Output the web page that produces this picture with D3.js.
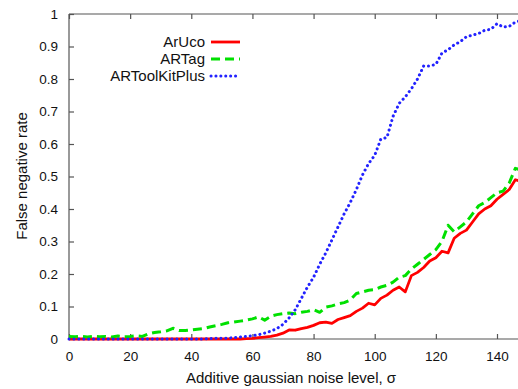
<!DOCTYPE html>
<html>
<head>
<meta charset="utf-8">
<script src="https://cdn.jsdelivr.net/npm/d3@7"></script>
<style>
  html, body { margin: 0; padding: 0; background: #fff; }
  svg { display: block; font-family: "Liberation Sans", Arial, sans-serif; }
</style>
</head>
<body>
<svg id="chart" width="518" height="389"></svg>
<script>
// Noise levels (sigma), sampled every 2 units
const sigma = d3.range(0, 149, 2);

// False negative rate per detector
const aruco = [
  0, 0, 0, 0, 0, 0, 0, 0, 0, 0,
  0, 0, 0, 0, 0, 0, 0, 0, 0, 0,
  0, 0, 0, 0, 0, 0, 0, 0, 0, 0.001,
  0.002, 0.004, 0.006, 0.008, 0.012, 0.018, 0.028, 0.027, 0.032, 0.036,
  0.042, 0.05, 0.052, 0.048, 0.06, 0.066, 0.072, 0.085, 0.095, 0.11,
  0.105, 0.125, 0.135, 0.15, 0.16, 0.145, 0.195, 0.205, 0.22, 0.24,
  0.25, 0.27, 0.265, 0.31, 0.325, 0.335, 0.36, 0.385, 0.4, 0.41,
  0.43, 0.445, 0.46, 0.49, 0.485
];
const artag = [
  0.008, 0.007, 0.008, 0.006, 0.008, 0.007, 0.008, 0.006, 0.009, 0.007,
  0.008, 0.01, 0.008, 0.016, 0.02, 0.022, 0.025, 0.033, 0.026, 0.026,
  0.028, 0.03, 0.032, 0.037, 0.041, 0.045, 0.05, 0.052, 0.055, 0.058,
  0.062, 0.068, 0.058, 0.07, 0.075, 0.078, 0.08, 0.078, 0.082, 0.085,
  0.09, 0.082, 0.098, 0.102, 0.108, 0.112, 0.12, 0.14, 0.145, 0.15,
  0.152, 0.16, 0.165, 0.175, 0.19, 0.195, 0.215, 0.23, 0.245, 0.26,
  0.275, 0.3, 0.35, 0.33, 0.345, 0.36, 0.385, 0.41, 0.42, 0.435,
  0.45, 0.455, 0.48, 0.525, 0.52
];
const artoolkitplus = [
  0, 0, 0, 0, 0, 0, 0, 0, 0, 0,
  0, 0, 0, 0, 0, 0, 0, 0, 0, 0,
  0, 0, 0, 0.001, 0.002, 0.002, 0.003, 0.004, 0.006, 0.008,
  0.01, 0.013, 0.018, 0.024, 0.032, 0.045, 0.065, 0.09, 0.125, 0.16,
  0.19, 0.23, 0.265, 0.305, 0.345, 0.385, 0.42, 0.46, 0.505, 0.54,
  0.565, 0.615, 0.62, 0.685, 0.725, 0.745, 0.77, 0.8, 0.84, 0.84,
  0.845, 0.88, 0.89, 0.905, 0.915, 0.93, 0.935, 0.94, 0.95, 0.953,
  0.97, 0.96, 0.962, 0.975, 0.98
];

const xTicks = [0, 20, 40, 60, 80, 100, 120, 140];
const yTicks = [0, 0.1, 0.2, 0.3, 0.4, 0.5, 0.6, 0.7, 0.8, 0.9, 1];

const seriesNames = ["ArUco", "ARTag", "ARToolKitPlus"];
const seriesValues = [aruco, artag, artoolkitplus];
const seriesStyles = [
  { color: "#ff0000", width: 2.8, dash: null, cap: "butt" },
  { color: "#00e000", width: 3, dash: "9,5", cap: "butt" },
  { color: "#2222ff", width: 3, dash: "0.1,4.8", cap: "round" }
];

const svg = d3.select("#chart");
const x = d3.scaleLinear().domain([0, 140]).range([69, 497]);
const y = d3.scaleLinear().domain([0, 1]).range([339, 14]);
const xEnd = x(152);
const axisColor = "#555";

// Frame: left, bottom and top border lines
const frame = svg.append("g").attr("stroke", axisColor).attr("stroke-width", 1.2);
frame.append("line").attr("x1", x(0)).attr("x2", x(0)).attr("y1", y(0)).attr("y2", y(1));
frame.append("line").attr("x1", x(0)).attr("x2", xEnd).attr("y1", y(0)).attr("y2", y(0));
frame.append("line").attr("x1", x(0)).attr("x2", xEnd).attr("y1", y(1)).attr("y2", y(1));

// Bottom axis, ticks pointing inward
const gx = svg.append("g")
  .attr("transform", `translate(0,${y(0)})`)
  .call(d3.axisBottom(x).tickValues(xTicks).tickSizeInner(-5).tickSizeOuter(0).tickPadding(12));
// Top axis, mirrored ticks without labels
const gxTop = svg.append("g")
  .attr("transform", `translate(0,${y(1)})`)
  .call(d3.axisTop(x).tickValues(xTicks).tickSizeInner(-5).tickSizeOuter(0).tickFormat(""));
// Left axis, ticks pointing inward
const gy = svg.append("g")
  .attr("transform", `translate(${x(0)},0)`)
  .call(d3.axisLeft(y).tickValues(yTicks).tickSizeInner(-5).tickSizeOuter(0).tickPadding(11)
    .tickFormat(d => d3.format("")(+d.toFixed(1))));

[gx, gxTop, gy].forEach(g => {
  g.select(".domain").remove();
  g.selectAll(".tick line").attr("stroke", axisColor).attr("stroke-width", 1.2);
  g.selectAll(".tick text").attr("fill", "#111").style("font-size", "13.5px");
});

// Axis titles
svg.append("text")
  .attr("x", 291).attr("y", 383)
  .attr("text-anchor", "middle")
  .attr("fill", "#111")
  .style("font-size", "15px")
  .text("Additive gaussian noise level, σ");
svg.append("text")
  .attr("transform", `translate(27,${176}) rotate(-90)`)
  .attr("text-anchor", "middle")
  .attr("fill", "#111")
  .style("font-size", "15px")
  .text("False negative rate");

// Series lines
const line = d3.line()
  .x((d, i) => x(sigma[i]))
  .y(d => y(d));

seriesValues.forEach((vals, k) => {
  const s = seriesStyles[k];
  svg.append("path")
    .datum(vals)
    .attr("fill", "none")
    .attr("stroke", s.color)
    .attr("stroke-width", s.width)
    .attr("stroke-linecap", s.cap)
    .attr("stroke-linejoin", "round")
    .attr("stroke-dasharray", s.dash)
    .attr("d", line);
});

// Legend, text right-aligned with a line sample after it
const legend = svg.append("g");
seriesNames.forEach((name, k) => {
  const s = seriesStyles[k];
  const ly = 42 + k * 17;
  legend.append("text")
    .attr("x", 205).attr("y", ly)
    .attr("dy", "0.35em")
    .attr("text-anchor", "end")
    .attr("fill", "#111")
    .style("font-size", "15px")
    .text(name);
  legend.append("line")
    .attr("x1", 211).attr("x2", 240)
    .attr("y1", ly).attr("y2", ly)
    .attr("stroke", s.color)
    .attr("stroke-width", s.width)
    .attr("stroke-linecap", s.cap)
    .attr("stroke-dasharray", s.dash);
});
</script>
</body>
</html>
